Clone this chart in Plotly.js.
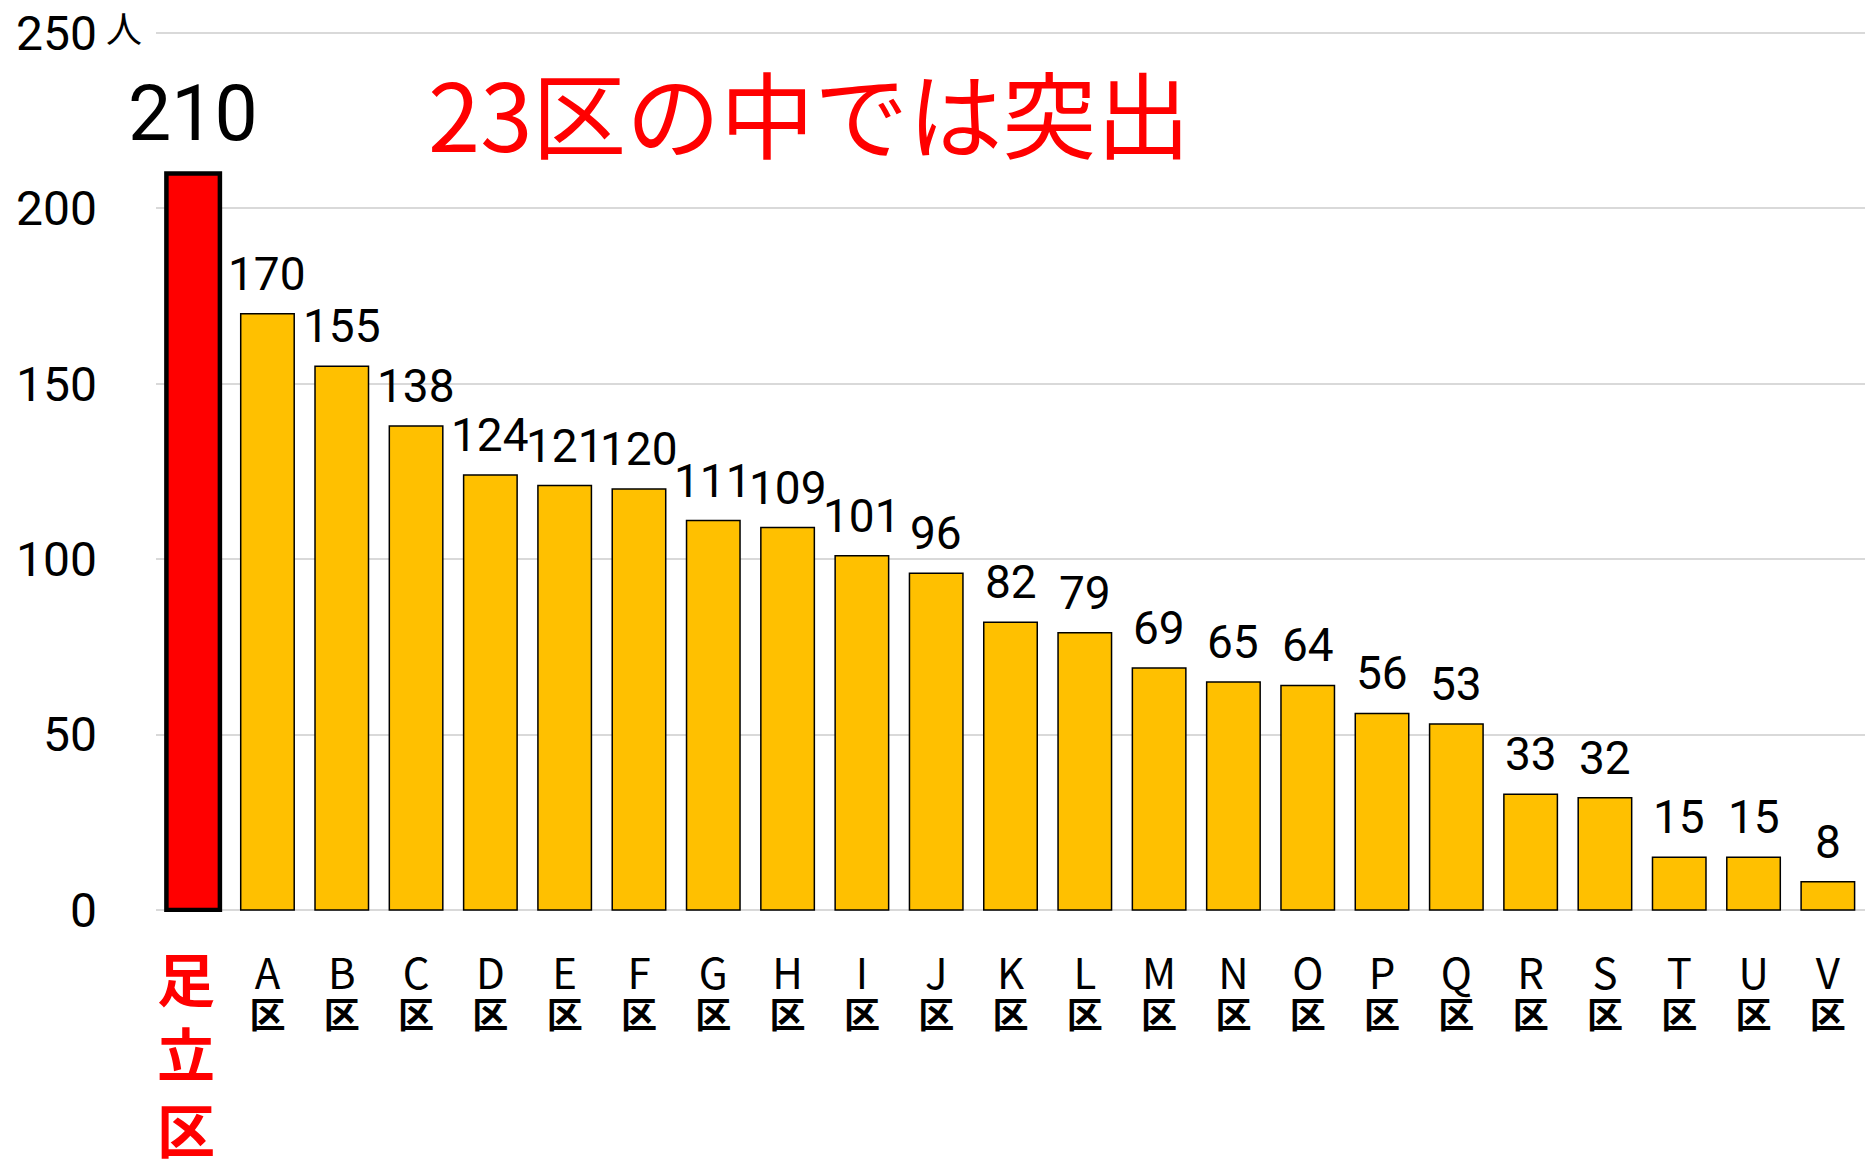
<!DOCTYPE html>
<html>
<head>
<meta charset="utf-8">
<script src="https://cdn.plot.ly/plotly-3.0.1.min.js"></script>
<style>
  body { margin: 0; background: #fff; }
  #chart { width: 1865px; height: 1159px; }
</style>
</head>
<body>
<div id="chart"></div>
<script>
// wards, sorted by count (only 足立区 is named)
var wards = ['足立区', 'A区', 'B区', 'C区', 'D区', 'E区', 'F区', 'G区', 'H区', 'I区', 'J区', 'K区',
             'L区', 'M区', 'N区', 'O区', 'P区', 'Q区', 'R区', 'S区', 'T区', 'U区', 'V区'];
var counts = [210, 170, 155, 138, 124, 121, 120, 111, 109, 101, 96, 82,
              79, 69, 65, 64, 56, 53, 33, 32, 15, 15, 8];
var yTicks = [0, 50, 100, 150, 200, 250];

var numFont = 'Roboto, "Noto Sans CJK JP", sans-serif';
var jpFont = '"Noto Sans CJK JP", sans-serif';

// tick text: letter over 区, first one drawn separately in red
var tickText = wards.map(function (w, i) {
  if (i === 0) return '';
  return "<span style='font-size:42px'>" + w.charAt(0) + "</span><br>" +
         "<span style='font-size:36px;font-weight:bold'>" + w.charAt(1) + "</span>";
});

var barColors = counts.map(function (v, i) { return i === 0 ? '#FF0000' : '#FFC000'; });
var lineWidths = counts.map(function (v, i) { return i === 0 ? 4.5 : 1.5; });

var trace = {
  x: wards,
  y: counts,
  type: 'bar',
  marker: {color: barColors, line: {color: '#000000', width: lineWidths}},
  hoverinfo: 'x+y'
};

var annotations = counts.map(function (v, i) {
  return {
    x: wards[i], y: v, xref: 'x', yref: 'y',
    text: String(v), showarrow: false,
    xanchor: 'center', yanchor: 'bottom',
    yshift: i === 0 ? 12 : 11,
    font: {family: numFont, size: i === 0 ? 77 : 46, color: '#000'}
  };
});

// unit next to the top tick
annotations.push({
  xref: 'paper', yref: 'y', x: -0.019, y: 250,
  text: '人', showarrow: false, xanchor: 'center', yanchor: 'middle',
  yshift: 6,
  font: {family: jpFont, size: 36, color: '#000'}
});

// red vertical label under the first bar
annotations.push({
  xref: 'x', yref: 'paper', x: wards[0], y: 0,
  text: '足<br>立<br>区', showarrow: false, xanchor: 'center', yanchor: 'top',
  xshift: -7, yshift: -21,
  font: {family: jpFont, size: 58, color: '#FF0000', weight: 'bold'}
});

var layout = {
  width: 1865,
  height: 1159,
  margin: {l: 156, r: 0, t: 31, b: 247, pad: 0},
  paper_bgcolor: '#ffffff',
  plot_bgcolor: '#ffffff',
  showlegend: false,
  bargap: 0.28,
  title: {
    text: '23区の中では突出',
    x: 0.2295, xanchor: 'left', xref: 'container',
    y: 0.897, yanchor: 'middle', yref: 'container',
    font: {family: jpFont, size: 94, color: '#FF0000'}
  },
  xaxis: {
    type: 'category',
    range: [-0.5, 22.5],
    tickvals: wards,
    ticktext: tickText,
    tickangle: 0,
    ticks: '',
    showgrid: false,
    showline: false,
    zeroline: false,
    ticklabelstandoff: 46,
    tickfont: {family: jpFont, size: 30, color: '#000'}
  },
  yaxis: {
    range: [-0.6, 250.6],
    tickvals: yTicks,
    ticktext: yTicks.map(String),
    ticks: '',
    showgrid: true,
    gridcolor: '#D9D9D9',
    gridwidth: 2,
    zeroline: false,
    showline: false,
    ticklabelstandoff: 58,
    tickfont: {family: numFont, size: 48, color: '#000'}
  },
  annotations: annotations
};

Plotly.newPlot('chart', [trace], layout, {displayModeBar: false, staticPlot: true});
</script>
</body>
</html>
